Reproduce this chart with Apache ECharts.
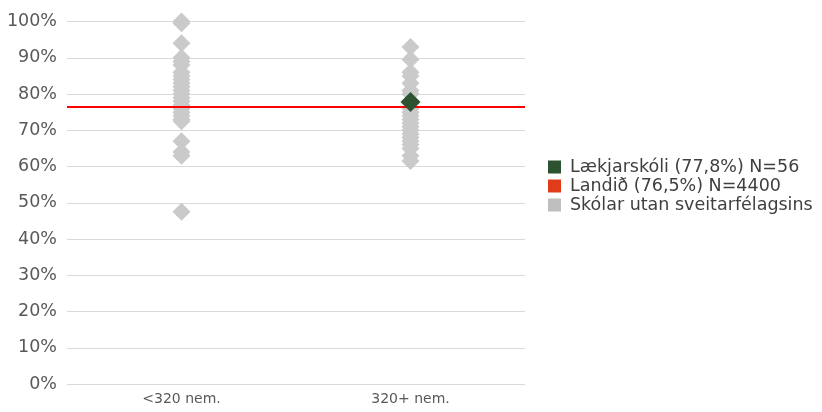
<!DOCTYPE html>
<html><head><meta charset="utf-8">
<script src="https://cdn.jsdelivr.net/npm/echarts@6/dist/echarts.min.js"></script>
<style>html,body{margin:0;padding:0;background:#fff}#c{width:822px;height:412px}</style>
</head><body><div id="c"></div>
<script>
const categories = ['<320 nem.', '320+ nem.'];
const yTicks = [0,10,20,30,40,50,60,70,80,90,100];
const smallSchools = [100, 99.5, 94, 90, 89, 88, 86, 85, 84, 83, 82, 81, 80, 79, 78, 77, 76, 75, 74, 73, 72.5, 67, 64, 63, 47.5];
const largeSchools = [93, 89.5, 86, 85, 83, 81, 80, 78, 76, 75, 74, 73, 72, 71, 70, 69, 68, 67, 66, 65, 63, 61.5];
const schoolName = 'Lækjarskóli (77,8%) N=56';
const schoolCat = '320+ nem.';
const schoolValue = 77.8;
const countryName = 'Landið (76,5%) N=4400';
const countryValue = 76.5;
const othersName = 'Skólar utan sveitarfélagsins';

const othersData = [];
smallSchools.forEach(v => othersData.push([categories[0], v]));
largeSchools.forEach(v => othersData.push([categories[1], v]));

const font = '"DejaVu Sans", sans-serif';
const chart = echarts.init(document.getElementById('c'), null, {renderer:'canvas'});
chart.setOption({
  animation: false,
  grid: {left: 67, right: 297, top: 21.5, bottom: 28},
  xAxis: {
    type: 'category', data: categories, boundaryGap: true,
    axisLine: {show: false}, axisTick: {show: false},
    axisLabel: {color: '#595959', fontSize: 14, fontFamily: font, margin: 8}
  },
  yAxis: {
    type: 'value', min: 0, max: 100, interval: 10,
    axisLabel: {formatter: '{value}%', color: '#595959', fontSize: 17.5, fontFamily: font, margin: 10},
    splitLine: {lineStyle: {color: '#d9d9d9', width: 1}},
    axisLine: {show: false}, axisTick: {show: false}
  },
  legend: {
    orient: 'vertical', left: 543, top: 153, itemGap: 1,
    itemWidth: 13, itemHeight: 13, icon: 'rect',
    textStyle: {color: '#404040', fontSize: 17.5, fontFamily: font, lineHeight: 18, padding: [0,0,0,4]},
    data: [
      {name: schoolName, itemStyle: {color: '#2d5230', opacity: 1}},
      {name: countryName, itemStyle: {color: '#e03c1a', opacity: 1}},
      {name: othersName, itemStyle: {color: '#bfbfbf', opacity: 1}}
    ]
  },
  series: [
    {
      name: othersName, type: 'scatter', symbol: 'diamond', symbolSize: 18,
      itemStyle: {color: '#cacaca', opacity: 1}, data: othersData, z: 2
    },
    {
      name: countryName, type: 'line', data: [],
      itemStyle: {color: '#e03c1a'},
      markLine: {
        silent: true, symbol: 'none', label: {show: false},
        lineStyle: {color: '#ff0000', width: 2, type: 'solid'},
        data: [{yAxis: countryValue}]
      }, z: 3
    },
    {
      name: schoolName, type: 'scatter', symbol: 'diamond', symbolSize: 20,
      itemStyle: {color: '#2d5230', opacity: 1}, data: [[schoolCat, schoolValue]], z: 5
    }
  ]
});
</script></body></html>
